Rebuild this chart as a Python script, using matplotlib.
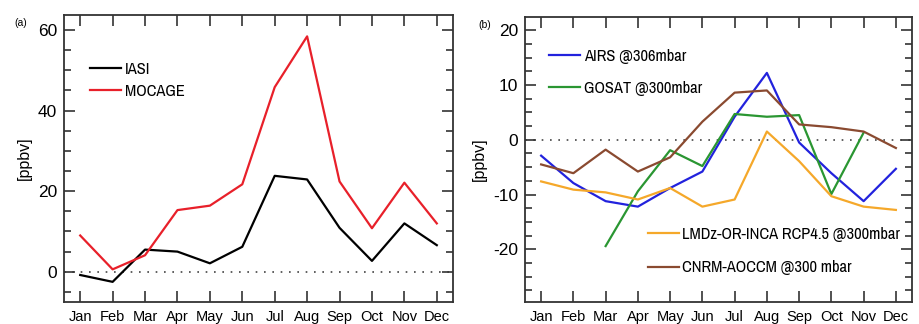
import matplotlib
matplotlib.use("Agg")
import matplotlib.pyplot as plt
from matplotlib import font_manager
from matplotlib.textpath import TextPath
import numpy as np
from matplotlib.ticker import MultipleLocator

plt.rcParams['font.family'] = ['Liberation Sans', 'DejaVu Sans']

months = ["Jan", "Feb", "Mar", "Apr", "May", "Jun", "Jul", "Aug", "Sep", "Oct", "Nov", "Dec"]
x = np.arange(1, 13)

iasi = [-0.8, -2.5, 5.5, 5.0, 2.1, 6.2, 23.8, 22.9, 10.9, 2.7, 12.0, 6.6]
mocage = [9.0, 0.6, 4.1, 15.3, 16.4, 21.7, 45.8, 58.4, 22.4, 10.8, 22.1, 12.0]

airs = [-2.9, -7.9, -11.2, -12.2, -8.8, -5.8, 4.2, 12.2, -0.5, -6.1, -11.2, -5.3]
gosat_months = np.arange(3, 12)
gosat = [-19.4, -9.4, -1.9, -4.8, 4.7, 4.2, 4.5, -9.9, 1.3]
lmdz = [-7.6, -9.1, -9.6, -10.9, -8.8, -12.2, -10.9, 1.5, -3.9, -10.3, -12.2, -12.8]
cnrm = [-4.5, -6.1, -1.8, -5.8, -3.2, 3.3, 8.6, 9.0, 2.8, 2.3, 1.5, -1.5]

# pick the narrowest regular font available for the legend
def is_regular(f):
    w = f.weight
    return (w in (400, 'normal', 'regular', 'book', 'Regular')) and f.style == 'normal'

cands = [f for f in font_manager.fontManager.ttflist if is_regular(f)]
pref = None
for f in cands:
    if 'narrow' in f.name.lower() or 'narrow' in f.fname.lower():
        pref = f
        break
if pref is None:
    for f in cands:
        if 'condensed' in f.name.lower() or 'condensed' in f.fname.lower():
            pref = f
            break
if pref is not None:
    base_prop = font_manager.FontProperties(fname=pref.fname)
else:
    base_prop = font_manager.FontProperties(family='Liberation Sans')

# size the legend font so the longest label is about 218 px wide (as in the reference)
probe = base_prop.copy()
probe.set_size(10)
wid = TextPath((0, 0), 'LMDz-OR-INCA RCP4.5 @300mbar', prop=probe).get_extents().width
size = 10 * (218 / (wid * 100 / 72))
size = min(size, 12)
leg_prop = base_prop.copy()
leg_prop.set_size(size)

fig = plt.figure(figsize=(9.19, 3.24), dpi=100)
W, H = 919, 324
axa = fig.add_axes([64 / W, 22 / H, (453 - 64) / W, (309 - 22) / H])
axb = fig.add_axes([525 / W, 22 / H, (912 - 525) / W, (307 - 22) / H])

spine_col = '#333333'
lw = 1.6


def style(ax, ylim, major, minor, ylabels):
    ax.set_xlim(0.5, 12.5)
    ax.set_ylim(*ylim)
    ax.set_xticks(x)
    ax.set_xticklabels(months, fontsize=10.5)
    ax.yaxis.set_major_locator(MultipleLocator(major))
    ax.yaxis.set_minor_locator(MultipleLocator(minor))
    ax.set_yticks(ylabels)
    ax.set_yticklabels([str(v) for v in ylabels], fontsize=12.5)
    ax.tick_params(axis='both', which='major', direction='in', top=True, right=True,
                   length=8, width=1.2, color=spine_col)
    ax.tick_params(axis='y', which='minor', direction='in', right=True,
                   length=5, width=1.2, color=spine_col)
    ax.tick_params(axis='x', which='major', pad=6)
    ax.tick_params(axis='y', which='major', pad=5)
    for s in ax.spines.values():
        s.set_color(spine_col)
        s.set_linewidth(1.3)
    ax.axhline(0, color='#444444', linestyle=(0, (1, 4)), linewidth=1.2, zorder=1)
    ax.set_ylabel('[ppbv]', fontsize=11.5, labelpad=4)


# Panel (a)
axa.plot(x, iasi, color='black', lw=lw, label='IASI')
axa.plot(x, mocage, color='#e8202a', lw=lw, label='MOCAGE')
style(axa, (-7.5, 63.7), 20, 5, [0, 20, 40, 60])
axa.legend(loc='upper left', bbox_to_anchor=(0.05, 0.86), frameon=False,
           prop=leg_prop, handlelength=1.9, handletextpad=0.2, labelspacing=0.45,
           borderaxespad=0)
fig.text(14 / W, 1 - 23 / H, '(a)', fontsize=7.5, va='center', ha='left')

# Panel (b)
axb.plot(x, airs, color='#2222dd', lw=lw, label='AIRS @306mbar')
axb.plot(gosat_months, gosat, color='#2a9632', lw=lw, label='GOSAT @300mbar')
axb.plot(x, lmdz, color='#f5a82a', lw=lw, label='LMDz-OR-INCA RCP4.5 @300mbar')
axb.plot(x, cnrm, color='#8a4a30', lw=lw, label='CNRM-AOCCM @300 mbar')
style(axb, (-29.6, 22.4), 10, 2.5, [20, 10, 0, -10, -20])
h, l = axb.get_legend_handles_labels()
leg1 = axb.legend(h[:2], l[:2], loc='upper left', bbox_to_anchor=(0.045, 0.91), frameon=False,
                  prop=leg_prop, handlelength=1.9, handletextpad=0.2, labelspacing=1.0,
                  borderaxespad=0)
axb.add_artist(leg1)
axb.legend(h[2:], l[2:], loc='lower left', bbox_to_anchor=(0.3, 0.07), frameon=False,
           prop=leg_prop, handlelength=1.9, handletextpad=0.2, labelspacing=1.1,
           borderaxespad=0)
fig.text(478 / W, 1 - 25 / H, '(b)', fontsize=7.5, va='center', ha='left')

fig.savefig('out.png', dpi=100)
